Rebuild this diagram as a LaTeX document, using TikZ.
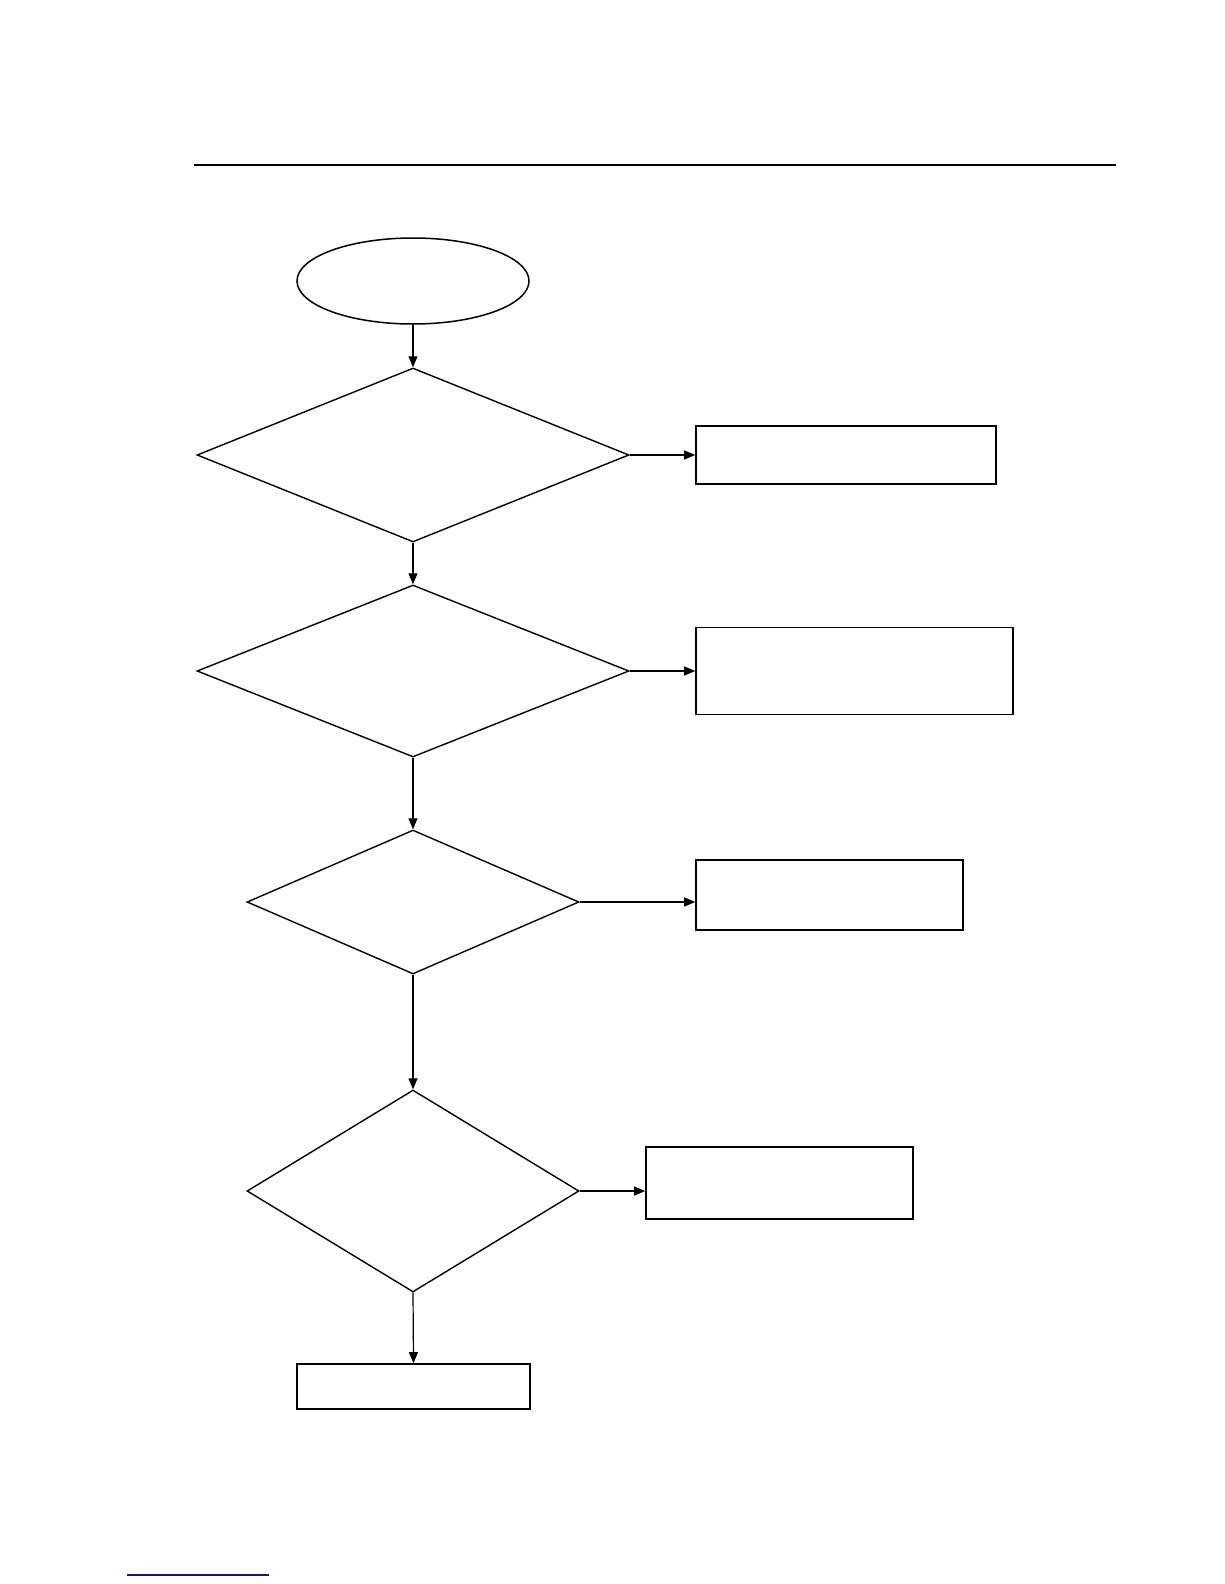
\documentclass[tikz,border=0pt]{standalone}
\usetikzlibrary{shapes.geometric,arrows.meta}
\definecolor{linkblue}{RGB}{20,20,140}
\tikzset{
  box/.style={draw,line width=1.6pt,inner sep=0pt},
  choice/.style={draw,diamond,line width=1.4pt,inner sep=0pt},
  flow/.style={line width=1.2pt,-{Triangle[length=11pt,width=9pt]}}
}
\begin{document}
\begin{tikzpicture}[x=1pt,y=-1pt]
\useasboundingbox (0,0) rectangle (1224,1584);
\draw[line width=1.5pt] (194,165)--(1116,165);
\node[draw,ellipse,line width=1.5pt,minimum width=232pt,minimum height=86pt] (start) at (413,281) {};
\node[choice,minimum width=432pt,minimum height=174pt] (q1) at (413,455) {};
\node[choice,minimum width=432pt,minimum height=172pt] (q2) at (413,671) {};
\node[choice,minimum width=332pt,minimum height=144pt] (q3) at (413,902) {};
\node[choice,minimum width=332pt,minimum height=202pt] (q4) at (413,1191) {};
\node[box,minimum width=300pt,minimum height=58pt] (a1) at (846,455) {};
\node[box,minimum width=317pt,minimum height=87pt] (a2) at (854.5,671) {};
\node[box,minimum width=267pt,minimum height=70pt] (a3) at (829.5,895) {};
\node[box,minimum width=267pt,minimum height=72pt] (a4) at (779.5,1183) {};
\node[box,minimum width=233pt,minimum height=45pt] (end) at (413.5,1386.5) {};
\draw[flow] (start.south)--(q1.north);
\draw[flow] (q1.south)--(q2.north);
\draw[flow] (q2.south)--(q3.north);
\draw[flow] (q3.south)--(q4.north);
\draw[flow] (q4.south)--(end.north);
\draw[flow] (q1.east)--(q1.east-|a1.west);
\draw[flow] (q2.east)--(q2.east-|a2.west);
\draw[flow] (q3.east)--(q3.east-|a3.west);
\draw[flow] (q4.east)--(q4.east-|a4.west);
\draw[linkblue,line width=1.3pt] (127,1575)--(269,1575);
\end{tikzpicture}
\end{document}
